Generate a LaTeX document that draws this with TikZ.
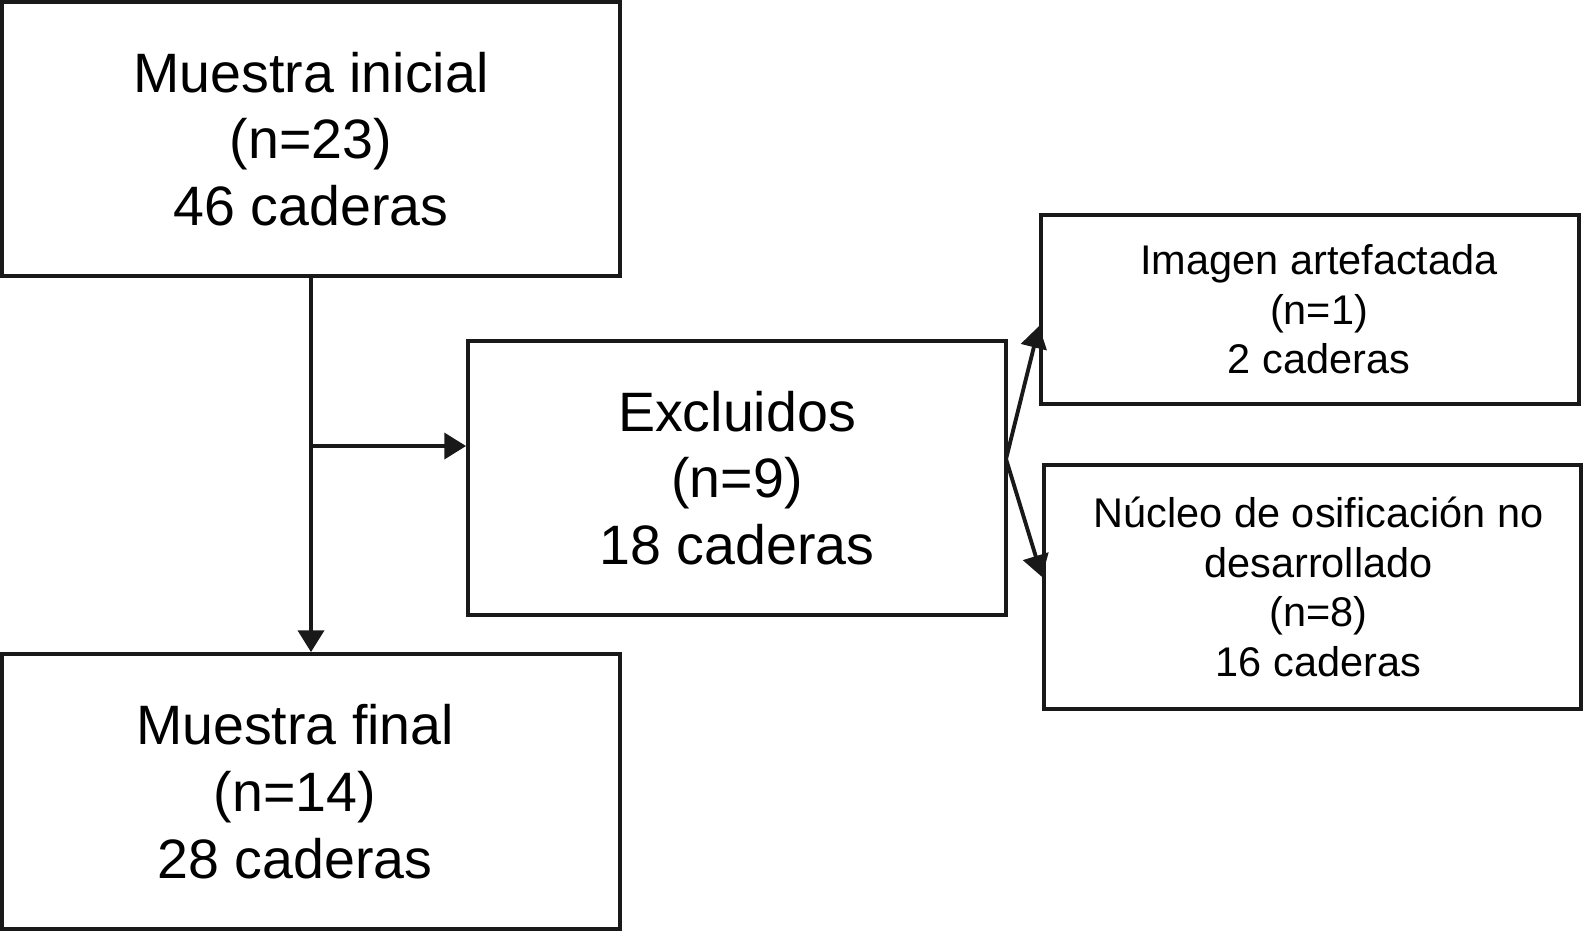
\documentclass[tikz,border=0pt]{standalone}
\usepackage{fontspec}
\setmainfont{Liberation Sans}
\usepackage{tikz}
\usetikzlibrary{arrows.meta}

\begin{document}
\begin{tikzpicture}[x=1cm, y=1cm]
    \tikzset{bigbox/.style={draw=black!90, line width=1.1pt, inner sep=0pt, align=center,
                            minimum width=6.18cm, minimum height=2.74cm,
                            font=\fontsize{15.8}{19}\selectfont},
             smallbox/.style={draw=black!90, line width=1.1pt, inner sep=0pt, align=center,
                              minimum width=5.38cm, font=\fontsize{11.8}{14.1}\selectfont},
             arr/.style={-{Triangle[length=6.2pt, width=7.4pt]}, line width=1.1pt, black!90}}
    \useasboundingbox (0,0) rectangle (15.83,-9.31);
    \node[bigbox] (inicial) at (3.11,-1.39) {Muestra inicial\\(n=23)\\46 caderas};
    \node[bigbox, minimum height=2.75cm] (final) at (3.11,-7.915) {\hspace*{-0.32cm}Muestra final\\\hspace*{-0.32cm}(n=14)\\\hspace*{-0.32cm}28 caderas};
    \node[bigbox, minimum width=5.38cm] (excl) at (7.37,-4.78) {Excluidos\\(n=9)\\18 caderas};
    \node[smallbox, minimum height=1.89cm] (imagen) at (13.10,-3.095)
        {\hspace*{0.18cm}Imagen artefactada\\\hspace*{0.18cm}(n=1)\\\hspace*{0.18cm}2 caderas};
    \node[smallbox, minimum width=5.37cm, minimum height=2.44cm] (nucleo) at (13.125,-5.87)
        {\hspace*{0.12cm}N\'ucleo de osificaci\'on no\\\hspace*{0.12cm}desarrollado\\\hspace*{0.12cm}(n=8)\\\hspace*{0.12cm}16 caderas};
    \coordinate (split) at (3.11,-4.46);
    \coordinate (fork) at (10.06,-4.59);
    \draw[arr] (inicial.south) -- (final.north);
    \draw[arr] (split) -- (split -| excl.west);
    \draw[arr] (fork) -- ([yshift=-1.65mm]imagen.west);
    \draw[arr] (fork) -- ([yshift=1mm]nucleo.west);
\end{tikzpicture}
\end{document}
